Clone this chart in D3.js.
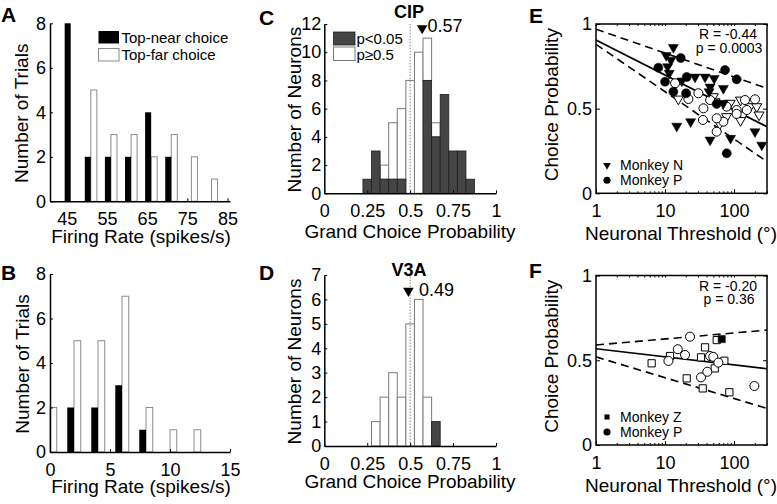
<!DOCTYPE html>
<html><head><meta charset="utf-8">
<script src="https://cdn.jsdelivr.net/npm/d3@7"></script>
<style>body{margin:0;background:#fff}svg{display:block}</style>
</head><body>
<svg id="fig" width="777" height="504"></svg>
<script>
// ================= DATA =================
// Panel A / B : firing-rate histograms (bin edge between the two bars of each pair)
const aRateEdges = [46, 51, 56, 61, 66, 71, 76, 81];
const aTopNear   = [8, 2, 2, 2, 4, 2, 0, 0];
const aTopFar    = [0, 5, 3, 3, 2, 3, 2, 1];
const aXTicks    = [45, 55, 65, 75, 85];
const bRateEdges = [0, 2, 4, 6, 8, 10, 12];
const bTopNear   = [0, 2, 2, 3, 1, 0, 0];
const bTopFar    = [2, 5, 5, 7, 2, 1, 1];
const bXTicks    = [0, 5, 10, 15];
const trialTicks = [0, 2, 4, 6, 8];
const legendAB   = ["Top-near choice", "Top-far choice"];

// Panel C / D : grand choice probability histograms
const cipBins  = [0.25, 0.30, 0.35, 0.40, 0.45, 0.50, 0.55, 0.60, 0.65, 0.70, 0.75, 0.80, 0.85];
const cipSig   = [1, 3, 1, 1, 1, 0, 0, 8, 4, 7, 3, 3, 1];
const cipNS    = [0, 0, 1, 4, 5, 8, 10, 3, 1, 0, 0, 0, 0];
const cipMean  = 0.57;
const cipMarkY = 11.7;
const cipYTicks = [0, 2, 4, 6, 8, 10, 12];
const v3aBins  = [0.30, 0.35, 0.40, 0.45, 0.50, 0.55, 0.60, 0.65];
const v3aSig   = [0, 0, 0, 0, 0, 0, 0, 1];
const v3aNS    = [1, 2, 3, 2, 5, 6, 2, 0];
const v3aMean  = 0.49;
const v3aMarkY = 6.35;
const v3aYTicks = [0, 1, 2, 3, 4, 5, 6, 7];
const cpXTicks = [0, 0.25, 0.5, 0.75, 1];
const legendCD = ["p<0.05", "p\u22650.5"];

// Panel E : threshold vs CP (CIP)
const eNsig = [[13.2,0.862],[10.4,0.815],[12.2,0.787],[10.9,0.748],[11.5,0.709],[17.5,0.664],[27.2,0.687],[38,0.687],[51.5,0.679],[44.9,0.628],[70,0.62],[43.5,0.600],[70,0.532],[14.8,0.397],[23.5,0.423],[44.9,0.315],[89,0.325],[201,0.364],[252,0.285]];
const ePsig = [[8.0,0.742],[16.9,0.799],[10,0.659],[13.2,0.600],[20.2,0.591],[20.6,0.687],[74,0.728],[109,0.673],[78.3,0.236],[56,0.528]];
const ePns  = [[14.0,0.650],[21.8,0.557],[30.4,0.591],[36,0.502],[35.4,0.433],[56,0.364],[78,0.512],[109,0.492],[109,0.469],[144,0.551],[201,0.555],[153,0.492],[70,0.423],[56,0.443],[45,0.551]];
const eNns  = [[15.6,0.557],[50,0.571],[53,0.541],[87.5,0.532],[124,0.551],[171,0.512],[213,0.512],[136,0.463],[78,0.453],[62,0.41],[124,0.43],[230,0.463]];
const eFit  = [[1,0.905],[300,0.393]];
const eHi   = [[1,0.969],[300,0.62]];
const eLo   = [[1,0.88],[300,0.187]];
const eStats = ["R = -0.44", "p = 0.0003"];
const eLegend = ["Monkey N", "Monkey P"];

// Panel F : threshold vs CP (V3A)
const fZns  = [[6.4,0.482],[11.8,0.525],[20.6,0.393],[33.2,0.517],[38,0.576],[35.2,0.334],[56.1,0.619],[72.3,0.497],[85.5,0.311],[52.5,0.452]];
const fZsig = [[66.3,0.625]];
const fPns  = [[11.2,0.496],[15.3,0.565],[19.5,0.531],[23,0.639],[33.2,0.399],[41,0.432],[44.9,0.525],[50,0.52],[59.2,0.486],[197,0.348]];
const fFit  = [[1,0.568],[300,0.450]];
const fHi   = [[1,0.590],[300,0.678]];
const fLo   = [[1,0.520],[300,0.216]];
const fStats = ["R = -0.20", "p = 0.36"];
const fLegend = ["Monkey Z", "Monkey P"];

const thrMajor = [1, 10, 100];
const cpYTicks = [0, 0.5, 1];

// ================= DRAWING =================
const FONT = '"Liberation Sans", Arial, Helvetica, sans-serif';
const LAB = 19;   // axis-title size
const TICK = 18;  // tick-label size
const svg = d3.select('#fig');

function txt(x, y, s, o = {}) {
  const t = svg.append('text').attr('x', x).attr('y', y).text(s)
    .attr('font-family', FONT).attr('font-size', o.size || LAB)
    .attr('font-weight', o.bold ? 'bold' : 'normal')
    .attr('text-anchor', o.anchor || 'start').attr('fill', '#000');
  if (o.rot) t.attr('transform', `rotate(-90,${x},${y})`);
  return t;
}
function styleAxis(g) {
  g.attr('font-family', FONT).attr('font-size', TICK);
  g.selectAll('path.domain').attr('stroke', '#000').attr('stroke-width', 1.5);
  g.selectAll('.tick line').attr('stroke', '#000').attr('stroke-width', 1);
  g.selectAll('.tick text').attr('fill', '#000');
}
function histAxes(x, y, xTicks, yTicks, x0, y0, ypad) {
  const gx = svg.append('g').attr('transform', `translate(0,${y0})`)
    .call(d3.axisBottom(x).tickValues(xTicks).tickSizeInner(-3).tickSizeOuter(0).tickPadding(11).tickFormat(d => String(d)));
  styleAxis(gx);
  const gy = svg.append('g').attr('transform', `translate(${x0},0)`)
    .call(d3.axisLeft(y).tickValues(yTicks).tickSizeInner(-3).tickSizeOuter(0).tickPadding(ypad).tickFormat(d => String(d)));
  styleAxis(gy);
}

// ---- Panels A, B ----
function firingPanel(cfg) {
  const x = d3.scaleLinear().domain(cfg.xDomain).range([50, 230]);
  const y = d3.scaleLinear().domain([0, 8]).range(cfg.yRange);
  const g = svg.append('g');
  const far = cfg.edges.map((e, i) => ({ e, n: cfg.far[i] })).filter(d => d.n > 0);
  const near = cfg.edges.map((e, i) => ({ e, n: cfg.near[i] })).filter(d => d.n > 0);
  g.selectAll('rect.far').data(far).join('rect').attr('class', 'far')
    .attr('x', d => x(d.e)).attr('width', d => x(d.e + cfg.bw) - x(d.e))
    .attr('y', d => y(d.n)).attr('height', d => y(0) - y(d.n))
    .attr('fill', '#fff').attr('stroke', '#8a8a8a').attr('stroke-width', 1);
  g.selectAll('rect.near').data(near).join('rect').attr('class', 'near')
    .attr('x', d => x(d.e - cfg.bw)).attr('width', d => x(d.e) - x(d.e - cfg.bw))
    .attr('y', d => y(d.n)).attr('height', d => y(0) - y(d.n))
    .attr('fill', '#000');
  histAxes(x, y, cfg.xTicks, trialTicks, 50, y(0), 4);
  txt(141, cfg.xlabY, 'Firing Rate (spikes/s)', { anchor: 'middle' });
  txt(28.5, (y(0) + y(8)) / 2 + 1, 'Number of Trials', { anchor: 'middle', rot: true });
  txt(1, cfg.letterY, cfg.letter, { bold: true, size: 21 });
  return { x, y };
}
firingPanel({ xDomain: [40.85, 85.6], yRange: [201.3, 23.3], edges: aRateEdges, near: aTopNear, far: aTopFar,
  bw: 1.5, xTicks: aXTicks, xlabY: 242.5, letter: 'A', letterY: 21.7 });
firingPanel({ xDomain: [0, 15], yRange: [452, 274], edges: bRateEdges, near: bTopNear, far: bTopFar,
  bw: 0.56, xTicks: bXTicks, xlabY: 492.5, letter: 'B', letterY: 280 });
// legend A
svg.append('rect').attr('x', 98.5).attr('y', 31).attr('width', 20.5).attr('height', 12.5).attr('fill', '#000');
svg.append('rect').attr('x', 98.5).attr('y', 48.5).attr('width', 20.5).attr('height', 12.5).attr('fill', '#fff').attr('stroke', '#8a8a8a');
txt(121.5, 42.5, legendAB[0], { size: 15 });
txt(121.5, 59.5, legendAB[1], { size: 15 });

// ---- Panels C, D ----
function cpPanel(cfg) {
  const x = d3.scaleLinear().domain([0, 1]).range([324.3, 496]);
  const y = d3.scaleLinear().domain([0, cfg.yMax]).range(cfg.yRange);
  const g = svg.append('g');
  const bw = 0.05;
  const rows = cfg.bins.map((c, i) => ({ c, s: cfg.sig[i], n: cfg.ns[i] }));
  g.selectAll('rect.ns').data(rows.filter(d => d.n > 0)).join('rect').attr('class', 'ns')
    .attr('x', d => x(d.c - bw / 2)).attr('width', d => x(d.c + bw / 2) - x(d.c - bw / 2))
    .attr('y', d => y(d.s + d.n)).attr('height', d => y(d.s) - y(d.s + d.n))
    .attr('fill', '#fff').attr('stroke', '#7a7a7a').attr('stroke-width', 1);
  g.selectAll('rect.sig').data(rows.filter(d => d.s > 0)).join('rect').attr('class', 'sig')
    .attr('x', d => x(d.c - bw / 2)).attr('width', d => x(d.c + bw / 2) - x(d.c - bw / 2))
    .attr('y', d => y(d.s)).attr('height', d => y(0) - y(d.s))
    .attr('fill', '#454545').attr('stroke', '#1e1e1e').attr('stroke-width', 0.8);
  // chance line
  g.append('line').attr('x1', x(0.5)).attr('x2', x(0.5)).attr('y1', y(0)).attr('y2', y(cfg.yMax))
    .attr('stroke', '#999').attr('stroke-width', 1.2).attr('stroke-dasharray', '1.5,1.5');
  // mean marker
  g.append('path').attr('d', d3.symbol().type(d3.symbolTriangle).size(48)())
    .attr('transform', `translate(${x(cfg.mean)},${y(cfg.markY)}) rotate(180)`).attr('fill', '#000');
  txt(cfg.meanLabX, cfg.meanLabY, String(cfg.mean), { size: 18 });
  histAxes(x, y, cpXTicks, cfg.yTicks, 324.3, y(0), 3);
  txt(410, cfg.xlabY, 'Grand Choice Probability', { anchor: 'middle' });
  txt(301, (y(0) + y(cfg.yMax)) / 2 + 1, 'Number of Neurons', { anchor: 'middle', rot: true });
  txt(409, cfg.titleY, cfg.title, { anchor: 'middle', bold: true, size: 18 });
  txt(259, cfg.letterY, cfg.letter, { bold: true, size: 21 });
}
cpPanel({ bins: cipBins, sig: cipSig, ns: cipNS, yMax: 12, yRange: [193.3, 24], yTicks: cipYTicks,
  mean: cipMean, markY: cipMarkY, meanLabX: 427.5, meanLabY: 32, xlabY: 237.5, title: 'CIP', titleY: 17.5, letter: 'C', letterY: 25 });
cpPanel({ bins: v3aBins, sig: v3aSig, ns: v3aNS, yMax: 7, yRange: [446, 275], yTicks: v3aYTicks,
  mean: v3aMean, markY: v3aMarkY, meanLabX: 419, meanLabY: 295.5, xlabY: 488, title: 'V3A', titleY: 276, letter: 'D', letterY: 279.5 });
// legend C
svg.append('rect').attr('x', 333.5).attr('y', 32).attr('width', 21.5).attr('height', 13).attr('fill', '#454545').attr('stroke', '#1e1e1e').attr('stroke-width', 0.8);
svg.append('rect').attr('x', 333.5).attr('y', 47).attr('width', 21.5).attr('height', 13.5).attr('fill', '#fff').attr('stroke', '#7a7a7a');
txt(356.5, 44, legendCD[0], { size: 15 });
txt(356.5, 59.5, legendCD[1], { size: 15 });

// ---- Panels E, F ----
const symTri = (s) => d3.symbol().type(d3.symbolTriangle).size(s)();
const symCirc = (s) => d3.symbol().type(d3.symbolCircle).size(s)();
const symSq = (s) => d3.symbol().type(d3.symbolSquare).size(s)();

function scatterPanel(cfg) {
  const x = d3.scaleLog().domain([1, 300]).range([596, 767]);
  const y = d3.scaleLinear().domain([0, 1]).range(cfg.yRange);
  const g = svg.append('g');
  const cid = 'clip' + cfg.letter;
  svg.append('clipPath').attr('id', cid).append('rect')
    .attr('x', 596).attr('y', y(1)).attr('width', 171).attr('height', y(0) - y(1));
  const line = d3.line().x(d => x(d[0])).y(d => y(d[1]));
  const lines = g.append('g').attr('clip-path', `url(#${cid})`);
  lines.append('path').datum(cfg.fit).attr('d', line).attr('fill', 'none').attr('stroke', '#000').attr('stroke-width', 1.6);
  [cfg.hi, cfg.lo].forEach(dd => lines.append('path').datum(dd).attr('d', line).attr('fill', 'none')
    .attr('stroke', '#000').attr('stroke-width', 1.6).attr('stroke-dasharray', '8,5'));
  cfg.groups.forEach(gr => {
    g.selectAll(null).data(gr.data).join('path')
      .attr('d', gr.sym)
      .attr('transform', d => `translate(${x(d[0])},${y(d[1])})${gr.rot ? ' rotate(180)' : ''}`)
      .attr('fill', gr.filled ? '#000' : '#fff').attr('stroke', '#000').attr('stroke-width', gr.filled ? 0.5 : 1);
  });
  // box
  g.append('rect').attr('x', 596).attr('y', y(1)).attr('width', 171).attr('height', y(0) - y(1))
    .attr('fill', 'none').attr('stroke', '#000').attr('stroke-width', 1.5);
  // ticks
  const minor = x.ticks().filter(v => !thrMajor.includes(v));
  const gx = svg.append('g').attr('transform', `translate(0,${y(0)})`)
    .call(d3.axisBottom(x).tickValues(thrMajor).tickSizeInner(-4).tickSizeOuter(0).tickPadding(11).tickFormat(d => String(d)));
  styleAxis(gx);
  const gxm = svg.append('g').attr('transform', `translate(0,${y(0)})`)
    .call(d3.axisBottom(x).tickValues(minor).tickSizeInner(-2).tickSizeOuter(0).tickFormat(''));
  styleAxis(gxm);
  const gxt = svg.append('g').attr('transform', `translate(0,${y(1)})`)
    .call(d3.axisTop(x).tickValues(x.ticks()).tickSizeInner(-2).tickSizeOuter(0).tickFormat(''));
  styleAxis(gxt);
  const gy = svg.append('g').attr('transform', `translate(596,0)`)
    .call(d3.axisLeft(y).tickValues(cpYTicks).tickSizeInner(-4).tickSizeOuter(0).tickPadding(4).tickFormat(d => String(d)));
  styleAxis(gy);
  const gyr = svg.append('g').attr('transform', `translate(767,0)`)
    .call(d3.axisRight(y).tickValues(cpYTicks).tickSizeInner(-4).tickSizeOuter(0).tickFormat(''));
  styleAxis(gyr);
  [gx, gxm, gxt, gy, gyr].forEach(a => a.selectAll('path.domain').attr('stroke', 'none'));
  // stats
  txt(728, y(1) + 15, cfg.stats[0], { size: 14, anchor: 'middle' });
  txt(729, y(1) + 28.5, cfg.stats[1], { size: 14, anchor: 'middle' });
  // legend
  cfg.legend.forEach((l, i) => {
    const ly = y(0) - 28 + i * 15;
    svg.append('path').attr('d', l.sym).attr('transform', `translate(607,${ly})${l.rot ? ' rotate(180)' : ''}`).attr('fill', '#000');
    txt(620, ly + 5, l.label, { size: 14 });
  });
  txt(681, cfg.xlabY, 'Neuronal Threshold (\u00b0)', { anchor: 'middle' });
  txt(558, (y(0) + y(1)) / 2 - 4, 'Choice Probability', { anchor: 'middle', rot: true });
  txt(529, cfg.letterY, cfg.letter, { bold: true, size: 21 });
}
scatterPanel({ letter: 'E', letterY: 22.7, yRange: [193.3, 24], xlabY: 240,
  fit: eFit, hi: eHi, lo: eLo, stats: eStats,
  groups: [
    { data: eNns, sym: symTri(44), rot: true, filled: false },
    { data: ePns, sym: symCirc(64), filled: false },
    { data: eNsig, sym: symTri(44), rot: true, filled: true },
    { data: ePsig, sym: symCirc(64), filled: true }],
  legend: [{ label: eLegend[0], sym: symTri(26), rot: true }, { label: eLegend[1], sym: symCirc(40) }] });
scatterPanel({ letter: 'F', letterY: 277.7, yRange: [445, 275.5], xlabY: 491.5,
  fit: fFit, hi: fHi, lo: fLo, stats: fStats,
  groups: [
    { data: fZns, sym: symSq(52), filled: false },
    { data: fPns, sym: symCirc(64), filled: false },
    { data: fZsig, sym: symSq(52), filled: true }],
  legend: [{ label: fLegend[0], sym: symSq(26) }, { label: fLegend[1], sym: symCirc(40) }] });
</script>
</body></html>
